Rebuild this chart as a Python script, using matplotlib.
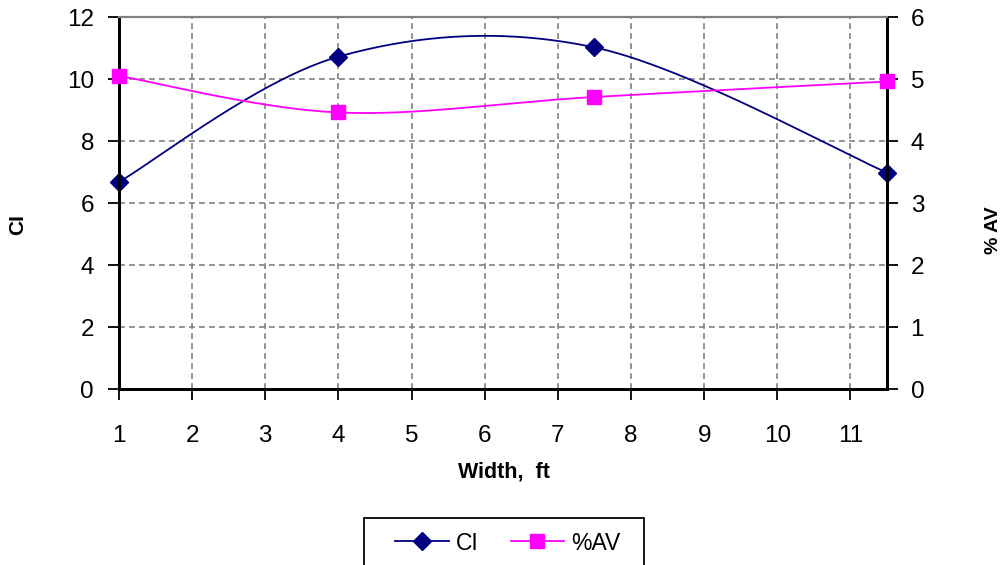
import numpy as np
import matplotlib
matplotlib.use("Agg")
import matplotlib.pyplot as plt
from matplotlib.patches import Rectangle
from matplotlib.lines import Line2D

plt.rcParams['font.family'] = ['Liberation Sans', 'DejaVu Sans']

# ---- data ----
width_ft = [1, 4, 7.5, 11.5]
ci_values = [6.68, 10.72, 11.02, 6.98]
av_values = [5.05, 4.46, 4.71, 4.96]
x_ticks = list(range(1, 12))
ci_ticks = [0, 2, 4, 6, 8, 10, 12]
av_ticks = [0, 1, 2, 3, 4, 5, 6]

W, H = 1007, 565
fig = plt.figure(figsize=(W / 100, H / 100), dpi=100)
L, R, T, B = 119, 887, 17, 389
ax = fig.add_axes([L / W, 1 - B / H, (R - L) / W, (B - T) / H])
ax2 = ax.twinx()

ax.set_xlim(1, 11.5)
ax.set_ylim(0, 12)
ax2.set_ylim(0, 6)

def excel_smooth(ax_, xs, ys, n=60):
    """Bezier smoothing similar to spreadsheet 'smoothed line', computed in pixel space."""
    x0, x1 = ax_.get_xlim()
    y0, y1 = ax_.get_ylim()
    sx = (R - L) / (x1 - x0)
    sy = (B - T) / (y1 - y0)
    P = np.column_stack([(np.asarray(xs) - x0) * sx, (np.asarray(ys) - y0) * sy])
    out = []
    m = len(P)
    for i in range(m - 1):
        pm = P[i - 1] if i > 0 else P[i]
        pp = P[i + 2] if i + 2 < m else P[i + 1]
        c1 = P[i] + (P[i + 1] - pm) / 6
        c2 = P[i + 1] - (pp - P[i]) / 6
        t = np.linspace(0, 1, n)[:, None]
        seg = ((1 - t) ** 3) * P[i] + 3 * ((1 - t) ** 2) * t * c1 + 3 * (1 - t) * t ** 2 * c2 + t ** 3 * P[i + 1]
        out.append(seg if i == 0 else seg[1:])
    pts = np.vstack(out)
    return pts[:, 0] / sx + x0, pts[:, 1] / sy + y0

navy = '#000080'
mag = '#FF00FF'

cx, cy = excel_smooth(ax, width_ft, ci_values)
ax.plot(cx, cy, color=navy, lw=1.3, zorder=3, clip_on=False)
ax.plot(width_ft, ci_values, linestyle='none', marker='D', ms=9, color=navy, zorder=4, clip_on=False)

ax2x, ax2y = excel_smooth(ax2, width_ft, av_values)
ax2.plot(ax2x, ax2y, color=mag, lw=1.3, zorder=3, clip_on=False)
ax2.plot(width_ft, av_values, linestyle='none', marker='s', ms=10, color=mag, zorder=4, clip_on=False)

# grid
ax.set_xticks(x_ticks)
ax.set_yticks(ci_ticks)
ax2.set_yticks(av_ticks)
for xv in x_ticks[1:]:
    ax.axvline(xv, color='#808080', lw=1.2, ls=(0, (3.5, 2.5)), zorder=1)
for yv in ci_ticks[1:-1]:
    ax.axhline(yv, color='#808080', lw=1.2, ls=(0, (3.5, 2.5)), zorder=1)

for a in (ax, ax2):
    a.spines['top'].set_color('#808080')
    a.spines['top'].set_linewidth(1.5)
    a.spines['left'].set_linewidth(2)
    a.spines['right'].set_linewidth(2)
    a.spines['bottom'].set_linewidth(2)

ax.tick_params(axis='x', direction='out', length=8, width=1.3, pad=18, labelsize=17.5)
ax.tick_params(axis='y', direction='out', length=8, width=1.3, pad=10, labelsize=17.5)
ax2.tick_params(axis='y', direction='out', length=8, width=1.3, pad=9, labelsize=17.5)

fig.text(18 / W, 1 - 225 / H, 'CI', rotation=90, fontsize=15, fontweight='bold', ha='center', va='center')
fig.text(993 / W, 1 - 230 / H, '% AV', rotation=90, fontsize=14, fontweight='bold', ha='center', va='center')
fig.text(504 / W, 1 - 472 / H, 'Width,  ft', fontsize=15.5, fontweight='bold', ha='center', va='center')

# legend
fig.patches.append(Rectangle((364 / W, 1 - 600 / H), (644 - 364) / W, (600 - 518) / H,
                             transform=fig.transFigure, fill=False, edgecolor='black', lw=1.3))
h1 = Line2D([], [], color=navy, lw=1.3, marker='D', ms=9)
h2 = Line2D([], [], color=mag, lw=1.3, marker='s', ms=10)
fig.legend([h1, h2], ['CI', '%AV'], loc='center left', bbox_to_anchor=(395 / W, 1 - 543 / H),
           ncol=2, frameon=False, fontsize=16.5, handlelength=2.35, handletextpad=0.3,
           columnspacing=1.4, borderpad=0, borderaxespad=0)

fig.savefig('out.png', dpi=100)
